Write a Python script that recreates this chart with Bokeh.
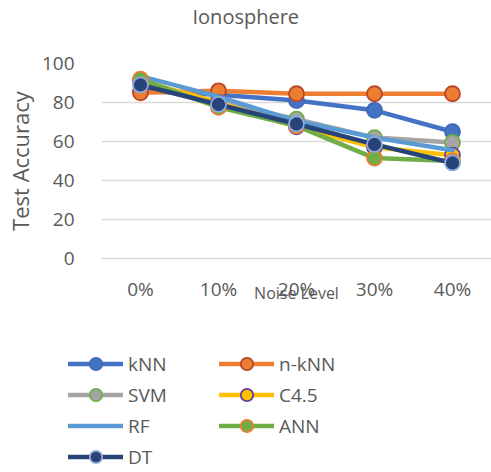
from bokeh.plotting import figure
from bokeh.models import Range1d, Legend, LegendItem, Title
from bokeh.layouts import column
from bokeh.embed import file_html
from bokeh.resources import INLINE

categories = ["0%", "10%", "20%", "30%", "40%"]
knn = [86, 84, 81, 76, 65]
nknn = [85, 86, 84.5, 84.5, 84.5]
svm = [91, 80, 71.5, 62, 59.5]
c45 = [91, 80, 67.5, 57, 53]
rf = [93.5, 83, 70.5, 62, 55.5]
ann = [92, 77.5, 68, 51.5, 50]
dt = [89, 79, 69, 58.5, 49]
y_ticks = [0, 20, 40, 60, 80, 100]

FONT = "Open Sans"
TXT = "#595959"

MAIN_H = 330
p = figure(x_range=categories, y_range=Range1d(0, 100), width=491, height=MAIN_H,
           output_backend="svg", toolbar_location=None,
           min_border_left=101, min_border_right=0, min_border_top=63,
           min_border_bottom=MAIN_H - 258)
p.x_range.range_padding = 0
p.outline_line_color = None
p.background_fill_color = "white"
p.border_fill_color = "white"

p.title = Title(text="Ionosphere", align="left", offset=91, text_font=FONT,
                text_font_size="20px", text_color=TXT, text_font_style="normal",
                standoff=4, vertical_align="top")
# blank spacer between title and plot area
p.add_layout(Title(text=" ", text_font=FONT, text_font_size="14px", standoff=9), "above")

p.xgrid.grid_line_color = None
p.ygrid.grid_line_color = "#D9D9D9"
p.ygrid.grid_line_width = 1.3
p.yaxis.ticker = y_ticks
p.yaxis.axis_line_color = None
p.yaxis.major_tick_line_color = None
p.yaxis.minor_tick_line_color = None
p.yaxis.major_label_text_font = FONT
p.yaxis.major_label_text_font_size = "19px"
p.yaxis.major_label_text_color = TXT
p.yaxis.major_label_standoff = 21
p.yaxis.axis_label = "Test Accuracy"
p.yaxis.axis_label_text_font = FONT
p.yaxis.axis_label_text_font_size = "22px"
p.yaxis.axis_label_text_font_style = "normal"
p.yaxis.axis_label_text_color = TXT
p.yaxis.axis_label_standoff = 4

p.xaxis.axis_line_color = "#D9D9D9"
p.xaxis.axis_line_width = 1.3
p.xaxis.major_tick_line_color = None
p.xaxis.minor_tick_line_color = None
p.xaxis.major_label_text_font = FONT
p.xaxis.major_label_text_font_size = "19px"
p.xaxis.major_label_text_color = TXT
p.xaxis.major_label_standoff = 11
p.xaxis.axis_label = "Noise Level"
p.xaxis.axis_label_text_font = FONT
p.xaxis.axis_label_text_font_size = "16px"
p.xaxis.axis_label_text_font_style = "normal"
p.xaxis.axis_label_text_color = TXT
p.xaxis.axis_label_standoff = -23

series = [
    ("kNN", knn, "#4472C4", "#4472C4", "#3F6AB8"),
    ("n-kNN", nknn, "#ED7D31", "#ED7D31", "#B8472A"),
    ("SVM", svm, "#A5A5A5", "#A5A5A5", "#70AD47"),
    ("C4.5", c45, "#FFC000", "#FFC000", "#6240A0"),
    ("RF", rf, "#5B9BD5", None, None),
    ("ANN", ann, "#70AD47", "#70AD47", "#ED7D31"),
    ("DT", dt, "#264478", "#264478", "#8FAADC"),
]

# legend figure below the chart
lf = figure(width=491, height=472 - MAIN_H, output_backend="svg", toolbar_location=None,
            x_axis_type=None, y_axis_type=None, x_range=Range1d(0, 1), y_range=Range1d(0, 1),
            min_border=0, min_border_left=0, min_border_right=0)
lf.outline_line_color = None
lf.grid.grid_line_color = None
lf.background_fill_color = "white"
lf.border_fill_color = "white"

legend_x = 68
try:
    p.frame_align = False
    lf.frame_align = False
except Exception:
    legend_x = 68 - 101

items = []
for name, vals, lc, fc, oc in series:
    p.line(categories, vals, line_color=lc, line_width=4.5, line_join="round", line_cap="round")
    if fc is not None:
        p.scatter(categories, vals, size=15, fill_color=fc, line_color=oc, line_width=1.8)
    # off-screen proxies so the legend figure can draw swatches
    rs = [lf.line([-5, -4], [-5, -4], line_color=lc, line_width=4.5, line_cap="round")]
    if fc is not None:
        rs.append(lf.scatter([-5], [-5], size=15, fill_color=fc, line_color=oc, line_width=1.8))
    items.append(LegendItem(label=name, renderers=rs))

legend = Legend(items=items, orientation="horizontal", ncols=2, location=(legend_x, 0),
                glyph_width=55, glyph_height=31, label_height=31, label_width=91,
                label_standoff=5, spacing=0, padding=0, margin=0,
                border_line_color=None, background_fill_alpha=0,
                label_text_font=FONT, label_text_font_size="19px", label_text_color=TXT)
lf.add_layout(legend, "center")

layout = column(p, lf, spacing=0)
open("out.html", "w").write(file_html(layout, INLINE))
